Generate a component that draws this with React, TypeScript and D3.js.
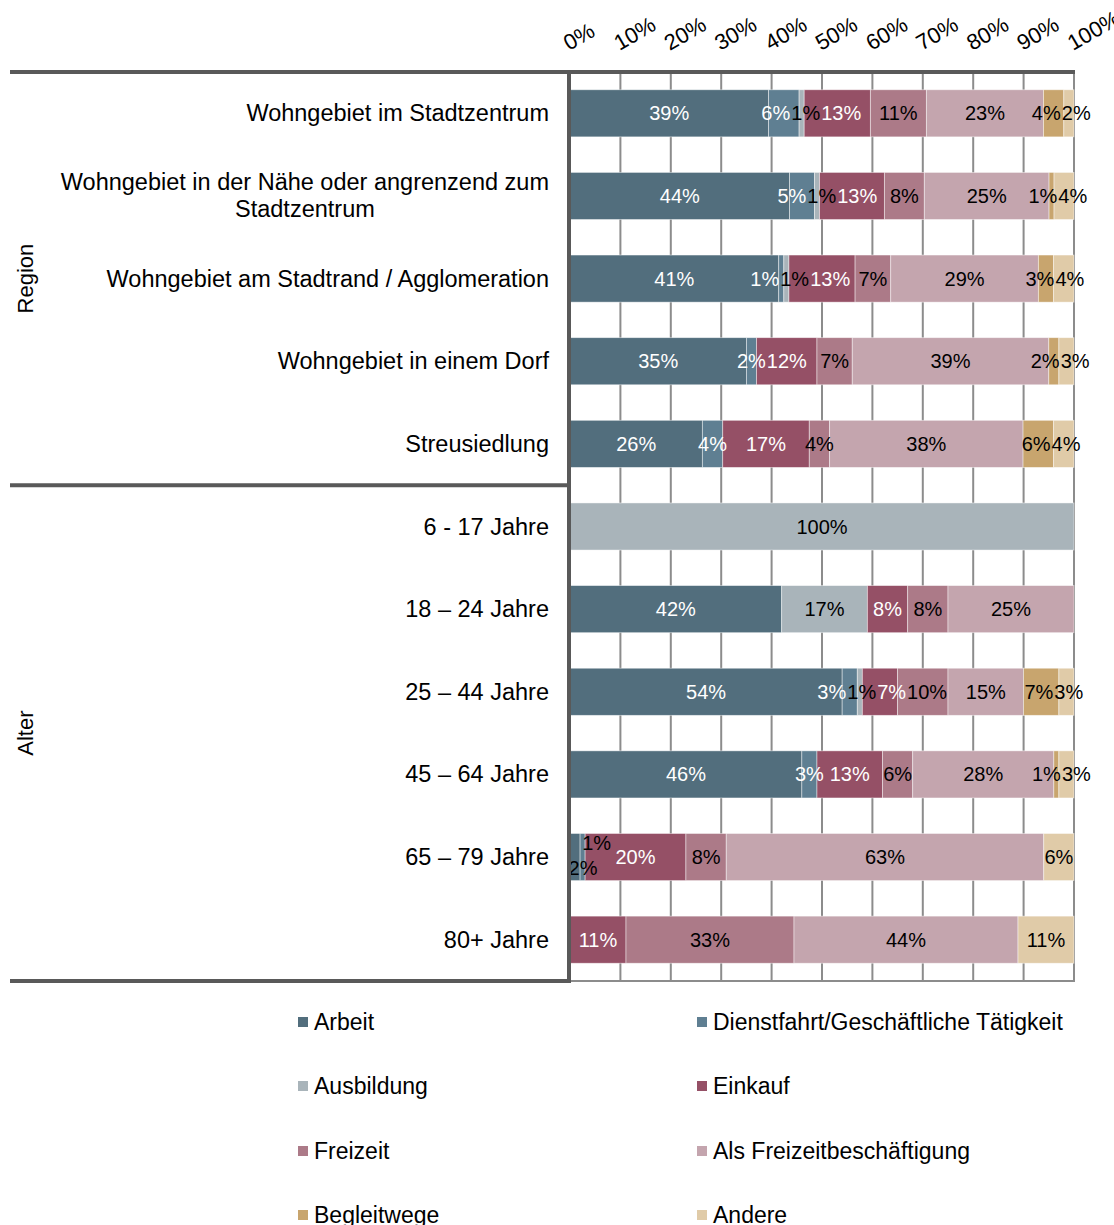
import React, { useRef, useEffect } from "react";
import * as d3 from "d3";

// categories (rows), "\n" marks a line break in the label
const categories = [
  "Wohngebiet im Stadtzentrum",
  "Wohngebiet in der Nähe oder angrenzend zum\nStadtzentrum",
  "Wohngebiet am Stadtrand / Agglomeration",
  "Wohngebiet in einem Dorf",
  "Streusiedlung",
  "6 - 17 Jahre",
  "18 – 24 Jahre",
  "25 – 44 Jahre",
  "45 – 64 Jahre",
  "65 – 79 Jahre",
  "80+ Jahre",
];

const groupNames = ["Region", "Alter"];
const groupStart = [0, 5];
const groupEnd = [4, 10];

const seriesNames = [
  "Arbeit",
  "Dienstfahrt/Geschäftliche Tätigkeit",
  "Ausbildung",
  "Einkauf",
  "Freizeit",
  "Als Freizeitbeschäftigung",
  "Begleitwege",
  "Andere",
];
const seriesColors = ["#526e7d", "#5f7f92", "#a9b4ba", "#955066", "#ac7a88", "#c4a5ae", "#c8a56e", "#e0cba8"];
const whiteText = [true, true, false, true, false, false, false, false];

// values in %, one per category
const arbeit = [39, 44, 41, 35, 26, 0, 42, 54, 46, 2, 0];
const dienstfahrt = [6, 5, 1, 2, 4, 0, 0, 3, 3, 1, 0];
const ausbildung = [1, 1, 1, 0, 0, 100, 17, 1, 0, 0, 0];
const einkauf = [13, 13, 13, 12, 17, 0, 8, 7, 13, 20, 11];
const freizeit = [11, 8, 7, 7, 4, 0, 8, 10, 6, 8, 33];
const alsFreizeit = [23, 25, 29, 39, 38, 0, 25, 15, 28, 63, 44];
const begleitwege = [4, 1, 3, 2, 6, 0, 0, 7, 1, 0, 0];
const andere = [2, 4, 4, 3, 4, 0, 0, 3, 3, 6, 11];

const seriesValues = [arbeit, dienstfahrt, ausbildung, einkauf, freizeit, alsFreizeit, begleitwege, andere];

const tickValues = [0, 0.1, 0.2, 0.3, 0.4, 0.5, 0.6, 0.7, 0.8, 0.9, 1];
const tickLabels = ["0%", "10%", "20%", "30%", "40%", "50%", "60%", "70%", "80%", "90%", "100%"];

// labels that Excel pushed out of tiny segments (above / below the bar)
const labelNudges: Record<string, { dx: number; dy: number; black: boolean }> = {
  "9-0": { dx: 8, dy: 11, black: true },
  "9-1": { dx: 14, dy: -14, black: true },
};

const FONT = "'Liberation Sans', Arial, sans-serif";

interface BarLabel {
  text: d3.Selection<SVGTextElement, unknown, null, undefined>;
  cx: number;
  w: number;
}

const App: React.FC = () => {
  const svgRef = useRef<SVGSVGElement | null>(null);

  const width = 1114;
  const height = 1225;

  useEffect(() => {
    if (!svgRef.current) return;
    const svg = d3.select(svgRef.current);
    svg.selectAll("*").remove();

    const x = d3.scaleLinear().domain([0, 1]).range([570, 1074]);
    const y = d3.scaleBand<number>()
      .domain(d3.range(categories.length))
      .range([72, 981])
      .paddingInner(0.43)
      .paddingOuter(0.215);
    const step = y.step();

    const table = categories.map((_, i) => {
      const row: Record<string, number> = {};
      seriesNames.forEach((s, j) => (row[s] = seriesValues[j][i]));
      return row;
    });
    const stacked = d3.stack<Record<string, number>>()
      .keys(seriesNames)
      .offset(d3.stackOffsetExpand)(table);

    // vertical grid
    svg.append("g").selectAll("line").data(tickValues).enter().append("line")
      .attr("x1", (d) => x(d)).attr("x2", (d) => x(d))
      .attr("y1", 72).attr("y2", 981)
      .attr("stroke", "#8c8c8c").attr("stroke-width", 2);
    svg.append("line")
      .attr("x1", 570).attr("x2", 1075).attr("y1", 981).attr("y2", 981)
      .attr("stroke", "#8c8c8c").attr("stroke-width", 2);

    // tick labels, rotated
    svg.append("g").selectAll("text").data(tickValues).enter().append("text")
      .attr("transform", (d) => `translate(${x(d) - 1},51) rotate(-30)`)
      .attr("font-family", FONT).attr("font-size", 22).attr("fill", "#000")
      .text((_, i) => tickLabels[i]);

    // bars
    stacked.forEach((layer, j) => {
      const g = svg.append("g");
      layer.forEach((seg, i) => {
        const v = seriesValues[j][i];
        if (!v) return;
        g.append("rect")
          .attr("x", x(seg[0])).attr("width", x(seg[1]) - x(seg[0]))
          .attr("y", y(i)!).attr("height", y.bandwidth())
          .attr("fill", seriesColors[j])
          .attr("stroke", "rgba(255,255,255,0.55)").attr("stroke-width", 0.8);
      });
    });

    // bar labels, spread apart per row where they would collide
    categories.forEach((_, i) => {
      const rowLabels: BarLabel[] = [];
      stacked.forEach((layer, j) => {
        const seg = layer[i];
        const v = seriesValues[j][i];
        if (!v) return;
        const nudge = labelNudges[`${i}-${j}`];
        const cx = (x(seg[0]) + x(seg[1])) / 2 + (nudge ? nudge.dx : 0);
        const cy = y(i)! + y.bandwidth() / 2 + (nudge ? nudge.dy : 0);
        const white = whiteText[j] && !(nudge && nudge.black);
        const t = svg.append("text")
          .attr("x", cx).attr("y", cy)
          .attr("text-anchor", "middle").attr("dominant-baseline", "central")
          .attr("font-family", FONT).attr("font-size", 20)
          .attr("fill", white ? "#fff" : "#000")
          .text(`${v}%`);
        if (!nudge) rowLabels.push({ text: t, cx, w: (t.node() as SVGTextElement).getComputedTextLength() });
      });
      for (let it = 0; it < 60; it++) {
        for (let k = 0; k < rowLabels.length - 1; k++) {
          const a = rowLabels[k];
          const b = rowLabels[k + 1];
          const overlap = a.cx + a.w / 2 + 1 - (b.cx - b.w / 2);
          if (overlap > 0) {
            a.cx -= overlap / 2;
            b.cx += overlap / 2;
          }
        }
      }
      rowLabels.forEach((l) => l.text.attr("x", l.cx));
    });

    // category labels
    categories.forEach((c, i) => {
      const lines = c.split("\n");
      const cy = y(i)! + y.bandwidth() / 2;
      const t = svg.append("text")
        .attr("font-family", FONT).attr("font-size", 23.5).attr("fill", "#000")
        .attr("dominant-baseline", "central");
      if (lines.length === 1) {
        t.attr("x", 549).attr("y", cy).attr("text-anchor", "end").text(c);
      } else {
        t.attr("text-anchor", "middle");
        const spans = lines.map((l, k) =>
          t.append("tspan").attr("y", cy + (k - (lines.length - 1) / 2) * 27).text(l)
        );
        const w = d3.max(spans, (s) => (s.node() as SVGTSpanElement).getComputedTextLength()) || 0;
        spans.forEach((s) => s.attr("x", 549 - w / 2));
      }
    });

    // group labels and separators
    groupNames.forEach((name, k) => {
      const y0 = y(groupStart[k])! - y.paddingOuter() * step;
      const y1 = y(groupEnd[k])! + y.bandwidth() + y.paddingOuter() * step;
      svg.append("text")
        .attr("transform", `translate(25,${(y0 + y1) / 2}) rotate(-90)`)
        .attr("text-anchor", "middle").attr("dominant-baseline", "central")
        .attr("font-family", FONT).attr("font-size", 22).attr("fill", "#000")
        .text(name);
    });
    const sepYs = [72, y(groupEnd[0])! + y.bandwidth() + y.paddingOuter() * step, 981];
    svg.append("g").selectAll("line").data(sepYs).enter().append("line")
      .attr("x1", 10).attr("x2", (d, i) => (i === 0 ? 1075 : 571))
      .attr("y1", (d) => d).attr("y2", (d) => d)
      .attr("stroke", "#595959").attr("stroke-width", 4);
    svg.append("line")
      .attr("x1", 569).attr("x2", 569).attr("y1", 70).attr("y2", 983)
      .attr("stroke", "#595959").attr("stroke-width", 4);

    // legend, two columns
    const legendX = [298, 697];
    const legendY = [1022, 1086, 1151, 1215];
    seriesNames.forEach((s, j) => {
      const lx = legendX[j % 2];
      const ly = legendY[Math.floor(j / 2)];
      svg.append("rect")
        .attr("x", lx).attr("y", ly - 5).attr("width", 10).attr("height", 10)
        .attr("fill", seriesColors[j]);
      svg.append("text")
        .attr("x", lx + 16).attr("y", ly)
        .attr("dominant-baseline", "central")
        .attr("font-family", FONT).attr("font-size", 23).attr("fill", "#000")
        .text(s);
    });
  }, []);

  return (
    <svg
      ref={svgRef}
      width={width}
      height={height}
      style={{ position: "absolute", left: 0, top: 0, display: "block", background: "#fff" }}
    />
  );
};

export default App;
